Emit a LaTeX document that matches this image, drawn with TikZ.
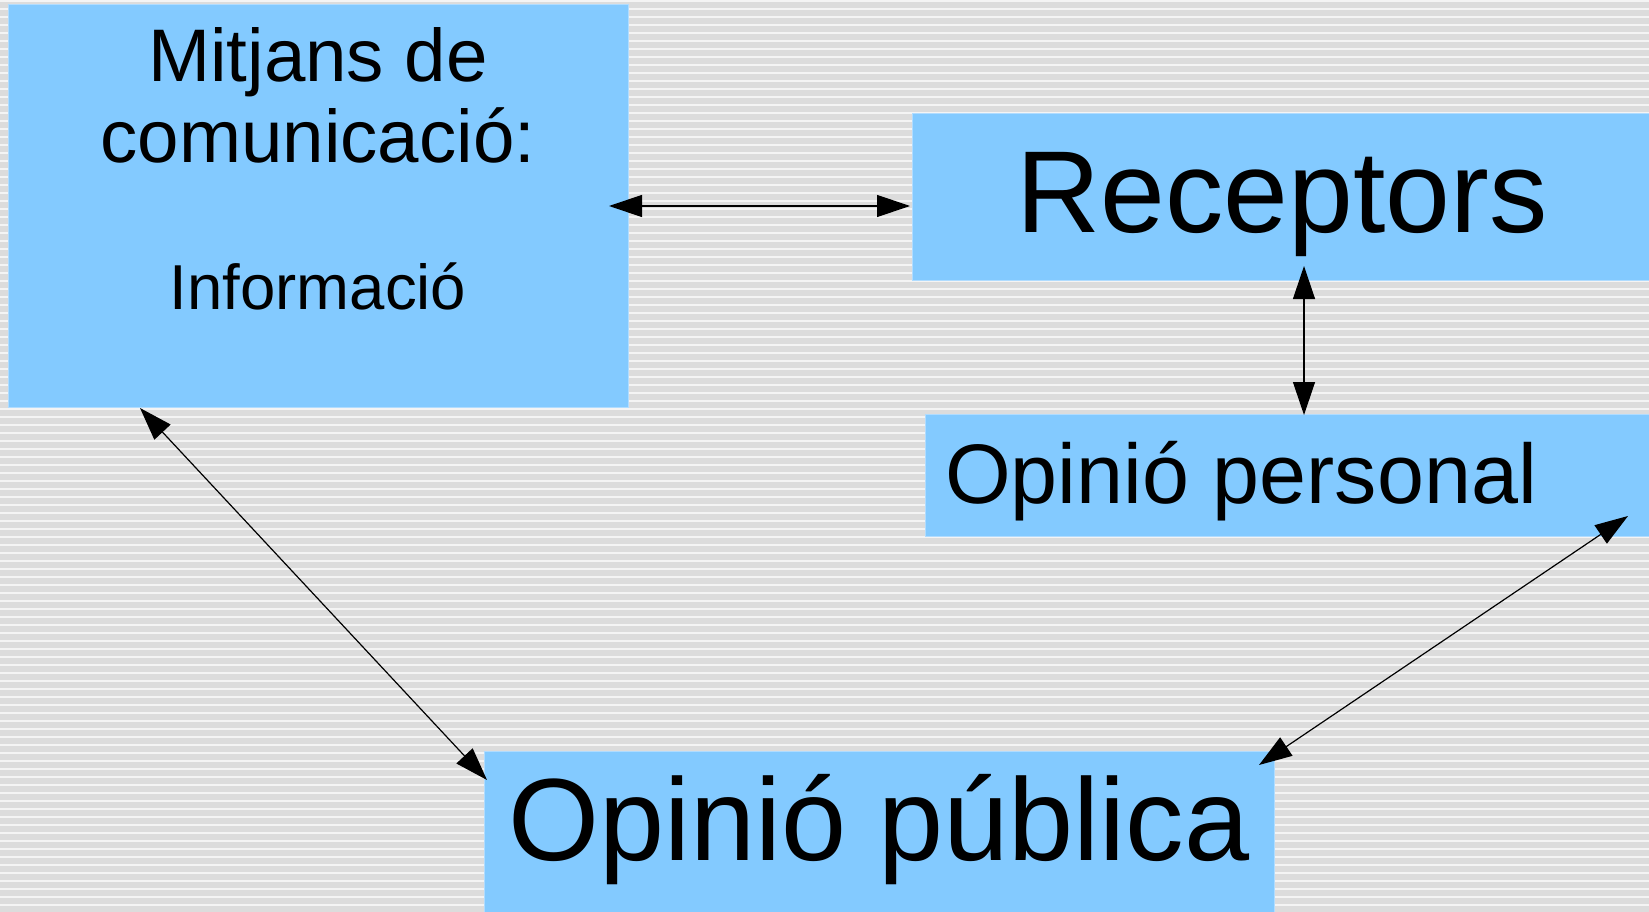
\documentclass[tikz,border=0pt]{standalone}
\usepackage{fontspec}
\setmainfont{Liberation Sans}
\usetikzlibrary{arrows.meta}
\definecolor{bggray}{HTML}{DCDCDC}
\definecolor{stripe}{HTML}{F4F4F4}
\definecolor{boxblue}{HTML}{83CAFF}
\definecolor{boxedge}{HTML}{B0DCFF}
\tikzset{
  box/.style={rectangle, fill=boxblue, draw=boxedge, line width=1pt, inner sep=0pt},
  conn/.style={{Triangle[length=33pt,width=22pt]}-{Triangle[length=33pt,width=22pt]}, line width=1.2pt, black},
  txt/.style={anchor=base, inner sep=0pt, text=black}
}
\begin{document}
\begin{tikzpicture}[x=1pt,y=-1pt]
\useasboundingbox (0,0) rectangle (1649,912);
% background
\fill[bggray] (0,0) rectangle (1649,912);
\foreach \k in {0,...,114} {
  \draw[stripe, line width=1.2pt] (0,{8*\k+1}) -- (1649,{8*\k+1});
}
% boxes
\node[box, anchor=north west, minimum width=620pt, minimum height=403pt] (m) at (8,4) {};
\node[box, anchor=north west, minimum width=740pt, minimum height=167pt] (r) at (912,113) {};
\node[box, anchor=north west, minimum width=727pt, minimum height=122pt] (p) at (925,414) {};
\node[box, anchor=north west, minimum width=790pt, minimum height=165pt] (o) at (484,751) {};
% texts
\node[txt, font=\fontsize{74.5}{80}\selectfont] (m1) at (318,82) {Mitjans de};
\node[txt, font=\fontsize{74.5}{80}\selectfont] (m2) at (318,163) {comunicació:};
\node[txt, font=\fontsize{63.5}{70}\selectfont] (m3) at (318,309) {Informació};
\node[txt, font=\fontsize{116.5}{125}\selectfont] (rt) at (1282,233) {Receptors};
\node[txt, anchor=base west, font=\fontsize{84.5}{90}\selectfont] (pt) at (945,503) {Opinió personal};
\node[txt, font=\fontsize{117}{125}\selectfont] (ot) at (879,860) {Opinió pública};
% connector ends
\coordinate (mr) at (609,206);
\coordinate (rl) at (910,206);
\coordinate (rb) at (1304,266);
\coordinate (pt1) at (1304,415);
\coordinate (mb) at (140,408);
\coordinate (ol) at (487,780);
\coordinate (pr) at (1628,516);
\coordinate (or) at (1259,765);
% connectors
\draw[conn] (mr) -- (rl);
\draw[conn] (rb) -- (pt1);
\draw[conn] (mb) -- (ol);
\draw[conn] (pr) -- (or);
\end{tikzpicture}
\end{document}
